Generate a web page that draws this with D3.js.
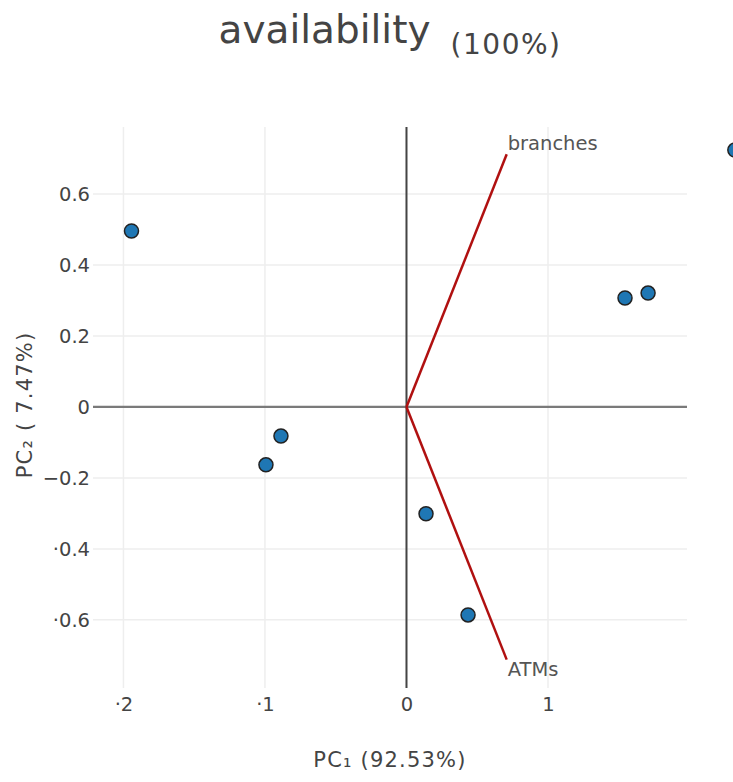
<!DOCTYPE html>
<html>
<head>
<meta charset="utf-8">
<script src="https://cdn.jsdelivr.net/npm/d3@7"></script>
<style>
  body { margin: 0; background: #fff; }
  svg { font-family: "DejaVu Sans", Verdana, sans-serif; }
</style>
</head>
<body>
<div id="viz"></div>
<script>
// scores of the observations on PC1 / PC2
const pc1 = [-1.943, -0.887, -0.993, 0.138, 0.435, 1.544, 1.707, 2.32];
const pc2 = [0.496, -0.082, -0.163, -0.301, -0.586, 0.307, 0.321, 0.724];

// loadings (arrows from origin)
const loadNames = ["branches", "ATMs"];
const loadX = [0.708, 0.708];
const loadY = [0.712, -0.712];

const xTicks = [-2, -1, 0, 1];
const xTickLabels = ["·2", "·1", "0", "1"];
const yTicks = [-0.6, -0.4, -0.2, 0, 0.2, 0.4, 0.6];
const yTickLabels = ["·0.6", "·0.4", "\u22120.2", "0", "0.2", "0.4", "0.6"];

const W = 733, H = 782;
const plotL = 93, plotR = 687, plotT = 127, plotB = 688;

const svg = d3.select("#viz").append("svg").attr("width", W).attr("height", H);

const x = d3.scaleLinear().domain([-2.215, 1.982]).range([plotL, plotR]);
const y = d3.scaleLinear().domain([-0.792, 0.789]).range([plotB, plotT]);

// grid
svg.append("g").selectAll("line").data(xTicks).join("line")
  .attr("x1", d => x(d)).attr("x2", d => x(d))
  .attr("y1", plotT).attr("y2", plotB)
  .attr("stroke", "#eeeeee").attr("stroke-width", 1.5);
svg.append("g").selectAll("line").data(yTicks).join("line")
  .attr("y1", d => y(d)).attr("y2", d => y(d))
  .attr("x1", plotL).attr("x2", plotR)
  .attr("stroke", "#eeeeee").attr("stroke-width", 1.5);

// axes (labels only)
const xAxis = svg.append("g").attr("transform", `translate(0,${plotB})`)
  .call(d3.axisBottom(x).tickValues(xTicks).tickSize(0).tickPadding(9)
    .tickFormat((d, i) => xTickLabels[i]));
const yAxis = svg.append("g").attr("transform", `translate(${plotL},0)`)
  .call(d3.axisLeft(y).tickValues(yTicks).tickSize(0).tickPadding(3)
    .tickFormat((d, i) => yTickLabels[i]));
[xAxis, yAxis].forEach(a => {
  a.select(".domain").remove();
  a.selectAll("text").attr("font-size", 19.5).attr("fill", "#444")
    .attr("font-family", "DejaVu Sans, Verdana, sans-serif");
});

// zero lines
svg.append("line")
  .attr("x1", plotL).attr("x2", plotR).attr("y1", y(0)).attr("y2", y(0))
  .attr("stroke", "#7a7a7a").attr("stroke-width", 2.2);
svg.append("line")
  .attr("x1", x(0)).attr("x2", x(0)).attr("y1", plotT).attr("y2", plotB)
  .attr("stroke", "#444").attr("stroke-width", 2);

// loading arrows
const loads = loadNames.map((n, i) => ({ name: n, x: loadX[i], y: loadY[i] }));
svg.append("g").selectAll("line").data(loads).join("line")
  .attr("x1", x(0)).attr("y1", y(0))
  .attr("x2", d => x(d.x)).attr("y2", d => y(d.y))
  .attr("stroke", "#b01010").attr("stroke-width", 2.5);
svg.append("g").selectAll("text").data(loads).join("text")
  .attr("x", d => x(d.x) + 1)
  .attr("y", d => d.y > 0 ? y(d.y) - 4 : y(d.y) + 16)
  .attr("font-size", 19.5).attr("fill", "#555")
  .text(d => d.name);

// points
svg.append("g").selectAll("circle").data(pc1.map((v, i) => [v, pc2[i]])).join("circle")
  .attr("cx", d => x(d[0])).attr("cy", d => y(d[1]))
  .attr("r", 7)
  .attr("fill", "#1f77b4").attr("stroke", "#222").attr("stroke-width", 1.5);

// title
const title = svg.append("text")
  .attr("x", (plotL + plotR) / 2).attr("y", 43)
  .attr("text-anchor", "middle").attr("fill", "#444").attr("font-size", 39);
title.append("tspan").text("availability");
title.append("tspan").attr("font-size", 28).attr("dx", 20).attr("dy", 11)
  .attr("letter-spacing", 1.5).text("(100%)");

// axis titles
svg.append("text")
  .attr("x", (plotL + plotR) / 2).attr("y", 767)
  .attr("text-anchor", "middle").attr("fill", "#444").attr("font-size", 21)
  .attr("letter-spacing", 1.2)
  .text("PC\u2081 (92.53%)");
svg.append("text")
  .attr("transform", `translate(32,405) rotate(-90)`)
  .attr("text-anchor", "middle").attr("fill", "#444").attr("font-size", 21)
  .attr("letter-spacing", 1.2)
  .text("PC\u2082 ( 7.47%)");
</script>
</body>
</html>
